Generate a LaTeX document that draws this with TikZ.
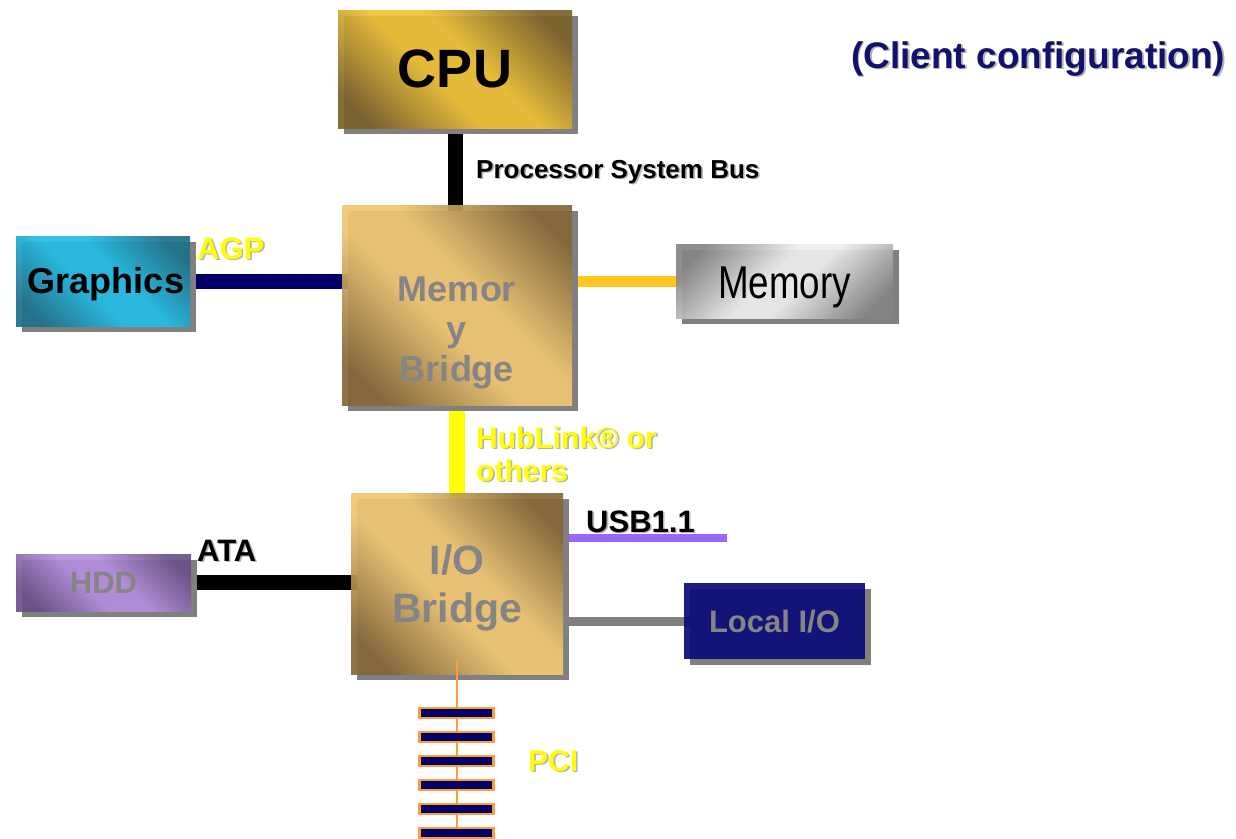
\documentclass[tikz,border=0pt]{standalone}
\usepackage{fontspec}
\setmainfont{Liberation Sans}
\usetikzlibrary{shadows,backgrounds}
\definecolor{shgray}{HTML}{808080}
\definecolor{txtgray}{HTML}{858585}
\definecolor{tshadow}{HTML}{B4B4B4}
\definecolor{cpulight}{HTML}{EEC034}
\definecolor{cpudark}{HTML}{7C622A}
\definecolor{brlight}{HTML}{F0C672}
\definecolor{brdark}{HTML}{846838}
\definecolor{gfxlight}{HTML}{22BCE6}
\definecolor{gfxdark}{HTML}{1E7088}
\definecolor{hddlight}{HTML}{B68EDE}
\definecolor{hdddark}{HTML}{6A5088}
\definecolor{memlight}{HTML}{EEEEEE}
\definecolor{memdark}{HTML}{858585}
\definecolor{lionavy}{HTML}{0A0A78}
\definecolor{agpnavy}{HTML}{000066}
\definecolor{memamber}{HTML}{FFC820}
\definecolor{hubyellow}{HTML}{FFFF00}
\definecolor{usbpurple}{HTML}{9966FF}
\definecolor{pciorange}{HTML}{FF9C3C}
\definecolor{pcinavy}{HTML}{000066}
\definecolor{titlenavy}{HTML}{12126C}
\pgfdeclareverticalshading{cpush}{100bp}{color(0bp)=(cpudark); color(22bp)=(cpudark); color(44bp)=(cpulight); color(56bp)=(cpulight); color(78bp)=(cpudark); color(100bp)=(cpudark)}
\pgfdeclareverticalshading{brsh}{100bp}{color(0bp)=(brdark); color(22bp)=(brdark); color(44bp)=(brlight); color(56bp)=(brlight); color(78bp)=(brdark); color(100bp)=(brdark)}
\pgfdeclareverticalshading{gfxsh}{100bp}{color(0bp)=(gfxdark); color(22bp)=(gfxdark); color(44bp)=(gfxlight); color(56bp)=(gfxlight); color(78bp)=(gfxdark); color(100bp)=(gfxdark)}
\pgfdeclareverticalshading{hddsh}{100bp}{color(0bp)=(hdddark); color(22bp)=(hdddark); color(44bp)=(hddlight); color(56bp)=(hddlight); color(78bp)=(hdddark); color(100bp)=(hdddark)}
\pgfdeclareverticalshading{memsh}{100bp}{color(0bp)=(memdark); color(22bp)=(memdark); color(45bp)=(memlight); color(55bp)=(memlight); color(78bp)=(memdark); color(100bp)=(memdark)}
\newcommand\dropt[2]{\rlap{\kern1.6pt\raisebox{-1.6pt}{\color{#1}#2}}#2}
\newcommand\fsz[2]{\fontsize{#1}{#2}\selectfont}
\begin{document}
\begin{tikzpicture}[x=1pt,y=-1pt,
  box/.style={inner sep=0pt, anchor=north west, fill opacity=0.92, text opacity=1,
    drop shadow={shadow xshift=6pt, shadow yshift=-6pt, fill=shgray, opacity=1}},
  cpubox/.style={box, shade, shading=cpush, shading angle=-45},
  brbox/.style={box, shade, shading=brsh, shading angle=-45},
  gfxbox/.style={box, shade, shading=gfxsh, shading angle=-45},
  hddbox/.style={box, shade, shading=hddsh, shading angle=-45},
  membox/.style={box, shade, shading=memsh, shading angle=45},
  liobox/.style={box, fill=lionavy},
  boxtext/.style={inner sep=0pt, align=center, font=\bfseries},
  lbl/.style={inner sep=0pt, anchor=base west, font=\bfseries},
  bus/.style={line cap=butt},
  pcislot/.style={draw=pciorange, line width=2.5pt, fill=pcinavy, minimum width=74pt, minimum height=10pt, inner sep=0pt}
]
\useasboundingbox (0,0) rectangle (1236,838);

% boxes
\node[cpubox, minimum width=234pt, minimum height=118pt] (cpu) at (338,10) {};
\node[boxtext, font=\bfseries\fsz{54}{60}] (cput) at (455,69) {CPU};
\node[brbox, minimum width=230pt, minimum height=200pt] (mb) at (342,205) {};
\node[boxtext, text=txtgray, font=\bfseries\fsz{36}{40}] (mbt) at (457,333) {Memor\\y\\Bridge};
\node[gfxbox, minimum width=174pt, minimum height=90pt] (gfx) at (16,236) {};
\node[boxtext, font=\bfseries\fsz{36}{40}] (gfxt) at (106,284) {Graphics};
\node[membox, minimum width=217pt, minimum height=74pt] (mem) at (676,244) {};
\node[inner sep=0pt, font=\fsz{46}{50}] (memt) at (784.5,287) {\scalebox{0.8}[1]{Memory}};
\node[brbox, minimum width=212pt, minimum height=181pt] (io) at (351,493) {};
\node[boxtext, text=txtgray, font=\bfseries\fsz{41}{48}] (iot) at (457,588) {I/O\\Bridge};
\node[liobox, minimum width=181pt, minimum height=76pt] (lio) at (684,583) {};
\node[boxtext, text=txtgray, font=\bfseries\fsz{31}{36}] (liot) at (774.5,622) {Local I/O};
\node[hddbox, minimum width=175pt, minimum height=57pt] (hdd) at (16,554) {};
\node[boxtext, text=txtgray, font=\bfseries\fsz{31}{36}] (hddt) at (103.5,583) {HDD};

% connectors behind the boxes
\coordinate (usbend) at (727,537.5);
\begin{scope}[on background layer]
  \draw[bus, line width=15pt, black] (cpu.center) -- (cpu.center |- mb.center);
  \draw[bus, line width=15pt, agpnavy] (gfx.center) -- (gfx.center -| mb.center);
  \draw[bus, line width=11pt, memamber] (mem.center) -- (mem.center -| mb.center);
  \draw[bus, line width=16pt, hubyellow] (mb.center) -- (mb.center |- io.center);
  \draw[bus, line width=15pt, black] (hdd.center) -- (hdd.center -| io.center);
  \draw[bus, line width=8pt, usbpurple] (usbend -| io.center) -- (usbend);
  \draw[bus, line width=9pt, shgray] (lio.center) -- (lio.center -| io.center);
\end{scope}

% PCI bus
\coordinate (pcitop) at (457,660);
\coordinate (pcibot) at (457,845);
\draw[pciorange, line width=2.5pt] (pcitop) -- (pcibot);
\foreach \i/\y in {1/713,2/737,3/761,4/785,5/809,6/833}
  \node[pcislot] (pci\i) at (456.5,\y) {};

% labels
\node[lbl, font=\bfseries\fsz{26}{30}] (psb) at (476,178) {\dropt{tshadow}{Processor System Bus}};
\node[lbl, text=hubyellow, font=\bfseries\fsz{31}{36}] (agp) at (197,259) {\dropt{tshadow}{AGP}};
\node[lbl, text=hubyellow, font=\bfseries\fsz{30}{33}] (hub) at (476,448) {\dropt{tshadow}{HubLink® or}};
\node[lbl, text=hubyellow, font=\bfseries\fsz{30}{33}] (hub2) at (476,481) {\dropt{tshadow}{others}};
\node[lbl, font=\bfseries\fsz{31}{36}] (ata) at (197,561) {\dropt{tshadow}{ATA}};
\node[lbl, font=\bfseries\fsz{31}{36}] (usb) at (586,532) {\dropt{tshadow}{USB1.1}};
\node[lbl, text=hubyellow, font=\bfseries\fsz{30}{36}] (pci) at (528,771) {\dropt{tshadow}{PCI}};
\node[lbl, text=titlenavy, font=\bfseries\fsz{37}{40}] (title) at (851,68) {\dropt{tshadow}{(Client configuration)}};
\end{tikzpicture}
\end{document}
